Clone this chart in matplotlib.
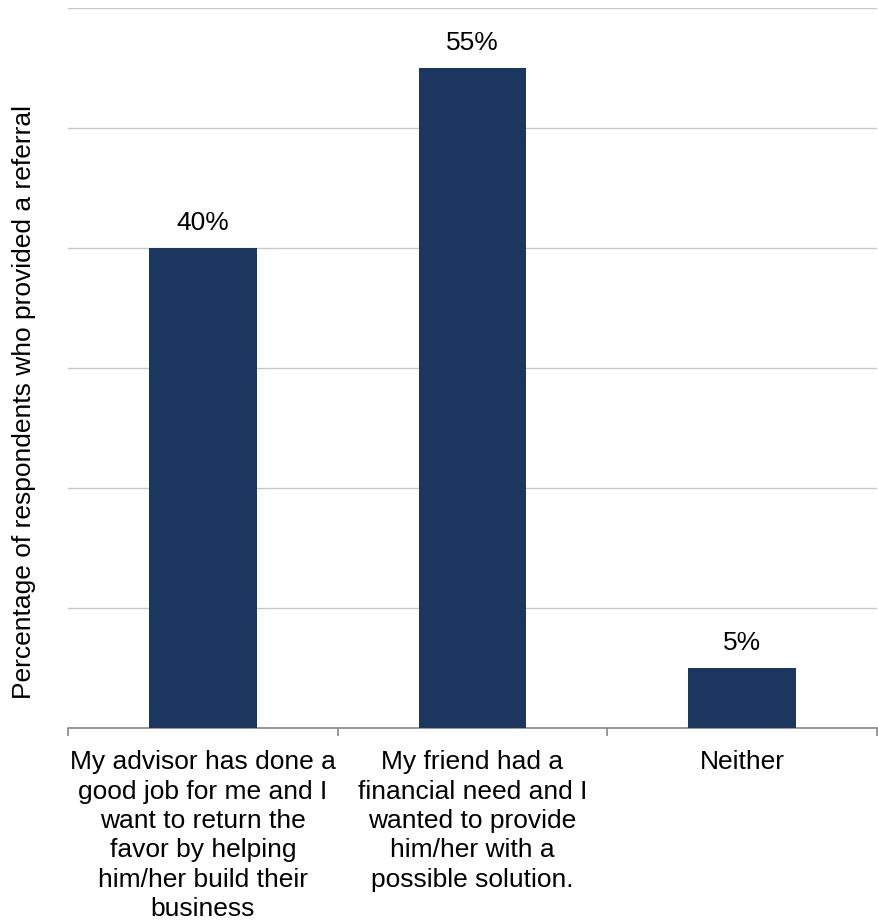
import matplotlib.pyplot as plt
from matplotlib.ticker import MultipleLocator, FixedLocator

plt.rcParams['font.family'] = ['Liberation Sans', 'DejaVu Sans']

categories = [
    "My advisor has done a\ngood job for me and I\nwant to return the\nfavor by helping\nhim/her build their\nbusiness",
    "My friend had a\nfinancial need and I\nwanted to provide\nhim/her with a\npossible solution.",
    "Neither",
]
values = [40, 55, 5]
value_labels = ["40%", "55%", "5%"]

bar_color = "#1b365f"
fs = 19

fig = plt.figure(figsize=(8.79, 9.23), dpi=100)
ax = fig.add_axes([68 / 879, 1 - 728 / 923, (877 - 68) / 879, (728 - 8) / 923])

x = list(range(len(categories)))
bars = ax.bar(x, values, width=0.4, color=bar_color, zorder=3)

for bar, lab in zip(bars, value_labels):
    ax.annotate(lab, (bar.get_x() + bar.get_width() / 2, bar.get_height()),
                xytext=(0, 9), textcoords="offset points",
                ha="center", va="bottom", fontsize=fs)

ax.set_xlim(-0.5, 2.5)
ax.set_ylim(0, 60)
ax.yaxis.set_major_locator(MultipleLocator(10))
ax.grid(axis="y", color="#c8c8c8", linewidth=1, zorder=0)
ax.tick_params(axis="y", left=False, labelleft=False)

ax.set_xticks(x)
ax.set_xticklabels(categories, fontsize=fs, linespacing=1.28)
ax.tick_params(axis="x", which="major", length=0, pad=16)
ax.xaxis.set_minor_locator(FixedLocator([-0.5, 0.5, 1.5, 2.5]))
ax.tick_params(axis="x", which="minor", length=6, width=1.2, color="#888888")

for side in ["top", "right", "left"]:
    ax.spines[side].set_visible(False)
ax.spines["bottom"].set_color("#888888")
ax.spines["bottom"].set_linewidth(1.2)

fig.text(24 / 879, 1 - 402 / 923, "Percentage of respondents who provided a referral",
         rotation=90, ha="center", va="center", fontsize=fs)

fig.savefig("out.png", dpi=100)
